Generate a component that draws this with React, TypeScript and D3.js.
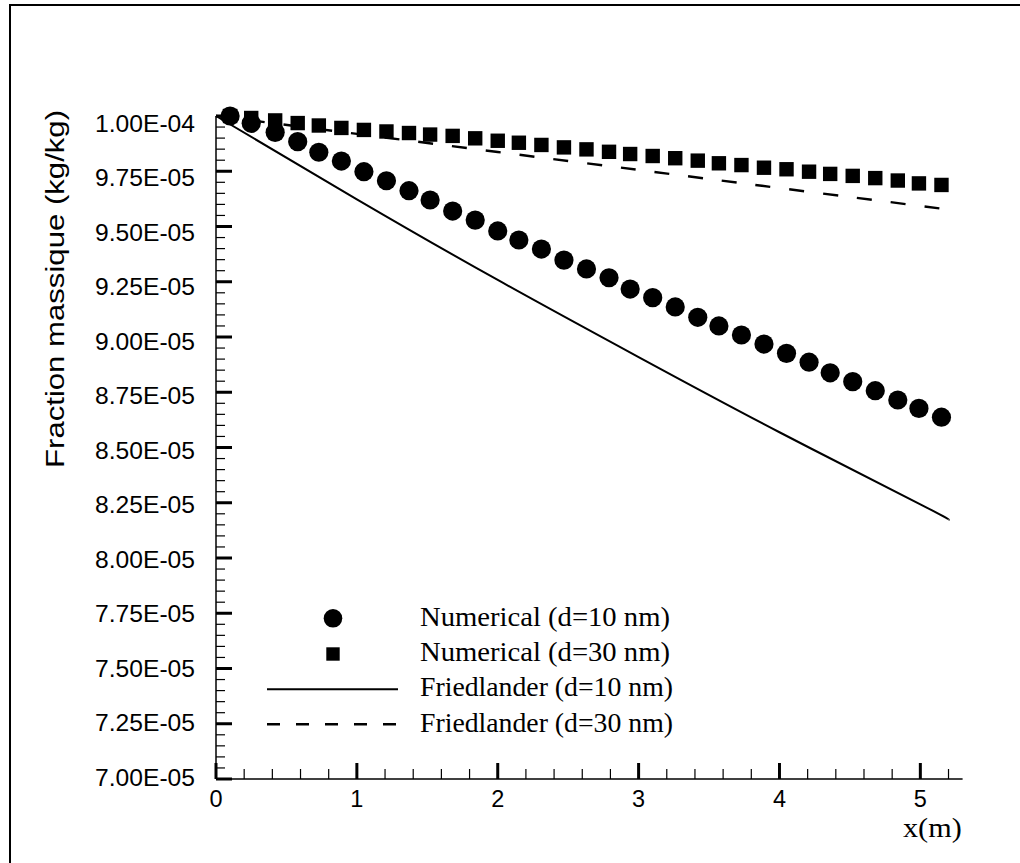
import React from 'react';
import * as d3 from 'd3';

// x positions (m) of the numerical points
const xNumerical = [0.10, 0.25, 0.42, 0.58, 0.73, 0.89, 1.05, 1.21, 1.37, 1.52, 1.68, 1.84, 2.00, 2.15, 2.31, 2.47, 2.63, 2.79, 2.94, 3.10, 3.26, 3.42, 3.57, 3.73, 3.89, 4.05, 4.21, 4.36, 4.52, 4.68, 4.84, 4.99, 5.15];
// Numerical (d=10 nm), kg/kg
const numerical10 = [10.000e-5, 9.967e-5, 9.926e-5, 9.884e-5, 9.836e-5, 9.796e-5, 9.748e-5, 9.707e-5, 9.662e-5, 9.620e-5, 9.570e-5, 9.529e-5, 9.480e-5, 9.439e-5, 9.398e-5, 9.348e-5, 9.308e-5, 9.268e-5, 9.217e-5, 9.178e-5, 9.136e-5, 9.089e-5, 9.050e-5, 9.009e-5, 8.968e-5, 8.926e-5, 8.886e-5, 8.838e-5, 8.798e-5, 8.757e-5, 8.715e-5, 8.677e-5, 8.637e-5];
// Numerical (d=30 nm), kg/kg
const numerical30 = [10.000e-5, 9.991e-5, 9.980e-5, 9.968e-5, 9.957e-5, 9.946e-5, 9.937e-5, 9.930e-5, 9.923e-5, 9.916e-5, 9.910e-5, 9.899e-5, 9.888e-5, 9.879e-5, 9.869e-5, 9.858e-5, 9.849e-5, 9.838e-5, 9.828e-5, 9.819e-5, 9.809e-5, 9.798e-5, 9.786e-5, 9.778e-5, 9.766e-5, 9.759e-5, 9.748e-5, 9.738e-5, 9.729e-5, 9.719e-5, 9.708e-5, 9.695e-5, 9.688e-5];
// Friedlander curves
const xFriedlander = [0, 1, 2, 3, 4, 5, 5.2];
const friedlander10 = [10.000e-5, 9.623e-5, 9.258e-5, 8.909e-5, 8.569e-5, 8.243e-5, 8.172e-5];
const friedlander30 = [10.000e-5, 9.919e-5, 9.837e-5, 9.756e-5, 9.674e-5, 9.593e-5, 9.576e-5];

const xTickValues = [0, 1, 2, 3, 4, 5];
const xTickLabels = ['0', '1', '2', '3', '4', '5'];
const yTickValues = [7.0e-5, 7.25e-5, 7.5e-5, 7.75e-5, 8.0e-5, 8.25e-5, 8.5e-5, 8.75e-5, 9.0e-5, 9.25e-5, 9.5e-5, 9.75e-5, 10.0e-5];
const yTickLabels = ['7.00E-05', '7.25E-05', '7.50E-05', '7.75E-05', '8.00E-05', '8.25E-05', '8.50E-05', '8.75E-05', '9.00E-05', '9.25E-05', '9.50E-05', '9.75E-05', '1.00E-04'];
const legendLabels = ['Numerical (d=10 nm)', 'Numerical (d=30 nm)', 'Friedlander (d=10 nm)', 'Friedlander (d=30 nm)'];
const xTitle = 'x(m)';
const yTitle = 'Fraction massique (kg/kg)';

const SANS = 'Arial, "Liberation Sans", sans-serif';
const SERIF = '"Times New Roman", "Liberation Serif", serif';

export default function App() {
  const x = d3.scaleLinear().domain([0, 5.3]).range([216, 962.6]);
  const y = d3.scaleLinear().domain([7e-5, 1e-4]).range([779, 116]);
  const yLab = d3.scaleLinear().domain([7e-5, 1e-4]).range([777.5, 123.3]);

  const xMinor = d3.range(0, 27).map((i) => Math.round(i * 2) / 10).filter((v) => v <= 5.25 && xTickValues.indexOf(v) < 0);
  const yMinor = d3.range(0, 61).map((i) => 7e-5 + i * 0.05e-5).filter((_, i) => i % 5 !== 0);

  const line = d3.line<number>().x((_, i) => x(xFriedlander[i])).y((d) => y(d)).curve(d3.curveNatural);

  const legendX0 = 267, legendX1 = 398, legendSym = 333;
  const rowBase = [626, 661.2, 696.4, 731.6];
  const legendLen = [250, 250, 253, 253];

  return (
    <svg width={1020} height={863} style={{ position: 'absolute', left: 0, top: 0, background: '#fff' }}>
      <rect x={0} y={0} width={1020} height={863} fill="#fff" />
      <path d="M10,880 L10,5 L1030,5" fill="none" stroke="#000" strokeWidth={2} />

      {/* axes */}
      <line x1={x(0)} x2={x(5.3)} y1={y(7e-5)} y2={y(7e-5)} stroke="#000" strokeWidth={1.5} />
      <line x1={x(0)} x2={x(0)} y1={y(7e-5)} y2={y(1e-4)} stroke="#000" strokeWidth={1.5} />

      {xMinor.map((v, i) => (
        <line key={'xm' + i} x1={x(v)} x2={x(v)} y1={779} y2={769} stroke="#000" strokeWidth={1.2} />
      ))}
      {xTickValues.map((v, i) => (
        <g key={'xt' + i}>
          <line x1={x(v)} x2={x(v)} y1={779} y2={763} stroke="#000" strokeWidth={3} />
          <text x={x(v)} y={806.5} textAnchor="middle" fontFamily={SANS} fontSize={23.5} fill="#000">{xTickLabels[i]}</text>
        </g>
      ))}
      {yMinor.map((v, i) => (
        <line key={'ym' + i} x1={216} x2={225} y1={y(v)} y2={y(v)} stroke="#000" strokeWidth={1.2} />
      ))}
      {yTickValues.map((v, i) => (
        <g key={'yt' + i}>
          <line x1={216} x2={232} y1={y(v)} y2={y(v)} stroke="#000" strokeWidth={3} />
          <text x={195} y={yLab(v) + 8.4} textAnchor="end" fontFamily={SANS} fontSize={23.5} fill="#000" textLength={100} lengthAdjust="spacingAndGlyphs">{yTickLabels[i]}</text>
        </g>
      ))}

      <text x={903} y={836.5} fontFamily={SERIF} fontSize={27} fill="#000" textLength={58.7} lengthAdjust="spacingAndGlyphs">{xTitle}</text>
      <text transform="translate(64,289) rotate(-90)" textAnchor="middle" fontFamily={SANS} fontSize={26.5} fill="#000" textLength={358} lengthAdjust="spacingAndGlyphs">{yTitle}</text>

      {/* lines */}
      <path d={line(friedlander10) || ''} fill="none" stroke="#000" strokeWidth={2} />
      <path d={line(friedlander30) || ''} fill="none" stroke="#000" strokeWidth={2.4} strokeDasharray="15,19" />

      {/* markers */}
      {numerical30.map((v, i) => (
        <rect key={'s' + i} x={x(xNumerical[i]) - 7.2} y={y(v) - 7.2} width={14.4} height={14.4} fill="#000" />
      ))}
      {numerical10.map((v, i) => (
        <circle key={'c' + i} cx={x(xNumerical[i])} cy={y(v)} r={9.6} fill="#000" />
      ))}

      {/* legend */}
      <circle cx={legendSym} cy={618.3} r={9.3} fill="#000" />
      <rect x={legendSym - 6.7} y={654 - 6.7} width={13.4} height={13.4} fill="#000" />
      <line x1={legendX0} x2={legendX1} y1={689.3} y2={689.3} stroke="#000" strokeWidth={2} />
      <line x1={legendX0} x2={legendX1} y1={724.3} y2={724.3} stroke="#000" strokeWidth={2.4} strokeDasharray="13,16" />
      {legendLabels.map((t, i) => (
        <text key={'lg' + i} x={420} y={rowBase[i]} fontFamily={SERIF} fontSize={26.5} fill="#000" textLength={legendLen[i]} lengthAdjust="spacingAndGlyphs">{t}</text>
      ))}
    </svg>
  );
}
